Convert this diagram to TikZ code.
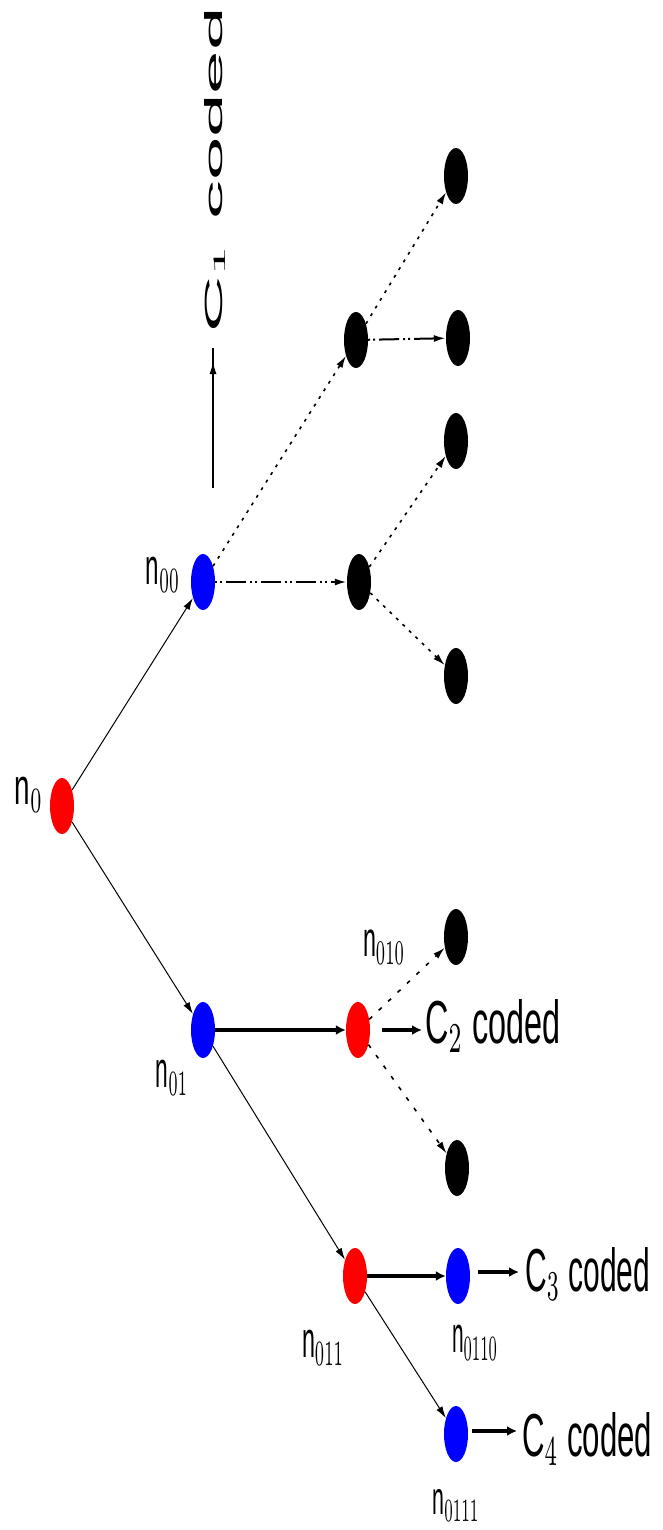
\documentclass[tikz,border=0pt]{standalone}
\usepackage{fontspec}
\setmainfont{Liberation Sans}
\usetikzlibrary{shapes.geometric,arrows.meta}
\begin{document}
\begin{tikzpicture}[x=1pt,y=-1pt,
  vtx/.style={ellipse,inner sep=0pt,minimum width=24pt,minimum height=56pt,draw=none},
  rednode/.style={vtx,fill=red},
  bluenode/.style={vtx,fill=blue},
  blacknode/.style={vtx,fill=black},
  tip/.style={-{Latex[length=12pt,width=7pt]}},
  thinedge/.style={tip,line width=1pt},
  thickedge/.style={-{Latex[length=10pt,width=10pt]},line width=4pt},
  dotedge/.style={tip,line width=1.6pt,dash pattern=on 3pt off 6pt},
  ddotedge/.style={tip,line width=2pt,dash pattern=on 2pt off 3pt on 2pt off 4pt on 20pt off 4pt},
  sparseedge/.style={tip,line width=1.6pt,dash pattern=on 4pt off 9pt},
  lbl/.style={inner sep=0pt}
]
\useasboundingbox (0,0) rectangle (662,1530);

% vertices
\node[rednode]  (n0)    at (62,806)   {};
\node[bluenode] (n00)   at (203,582)  {};
\node[bluenode] (n01)   at (203,1030) {};
\node[blacknode] (a)    at (356,340)  {};
\node[blacknode] (b)    at (359,582)  {};
\node[blacknode] (l1)   at (456,176)  {};
\node[blacknode] (l2)   at (458,338)  {};
\node[blacknode] (l3)   at (456,441)  {};
\node[blacknode] (l4)   at (456,676)  {};
\node[rednode]  (n010)  at (358,1030) {};
\node[blacknode] (l5)   at (456,937)  {};
\node[blacknode] (l6)   at (457,1168) {};
\node[rednode]  (n011)  at (355,1276) {};
\node[bluenode] (n0110) at (458,1276) {};
\node[bluenode] (n0111) at (456,1434) {};

% labels
\node[lbl] (t0)    at (29,795)   {\resizebox*{28pt}{35pt}{n$_0$}};
\node[lbl] (t00)   at (163,575)  {\resizebox*{34pt}{35pt}{n$_{00}$}};
\node[lbl] (t01)   at (172,1078) {\resizebox*{32pt}{35pt}{n$_{01}$}};
\node[lbl] (t010)  at (384,947)  {\resizebox*{42pt}{34pt}{n$_{010}$}};
\node[lbl] (t011)  at (323,1348) {\resizebox*{42pt}{35pt}{n$_{011}$}};
\node[lbl] (t0110) at (475,1343) {\resizebox*{46pt}{35pt}{n$_{0110}$}};
\node[lbl] (t0111) at (456,1505) {\resizebox*{47pt}{32pt}{n$_{0111}$}};

% coded texts
\node[lbl,anchor=base west] (c2) at (425,1043) {\resizebox{135pt}{44pt}{C$_2$ coded}};
\node[lbl,anchor=base west] (c3) at (525,1291) {\resizebox{125pt}{44pt}{C$_3$ coded}};
\node[lbl,anchor=base west] (c4) at (522,1456) {\resizebox{130pt}{44pt}{C$_4$ coded}};
\node[lbl,rotate=90] (c1) at (215,170) {\resizebox{325pt}{18pt}{C$_1$ coded}};

% edges
\draw[thinedge] (n0) -- (n00);
\draw[thinedge] (n0) -- (n01);
\draw[dotedge] (n00) -- (a);
\draw[ddotedge] (n00) -- (b);
\draw[dotedge] (a) -- (l1);
\draw[ddotedge] (a) -- (l2);
\draw[dotedge] (b) -- (l3);
\draw[dotedge] (b) -- (l4);
\draw[thickedge,line width=3.5pt] (n01) -- (n010);
\draw[sparseedge] (n010) -- (l5);
\draw[sparseedge] (n010) -- (l6);
\draw[thinedge] (n01) -- (n011);
\draw[thickedge,line width=3.5pt] (n011) -- (n0110);
\draw[thinedge] (n011) -- (n0111);

% short arrows to texts
\draw[thickedge] ([xshift=12pt]n010.east) -- ([xshift=-3pt]n010.east -| c2.west);
\draw[thickedge] ([xshift=8pt,yshift=4pt]n0110.east) -- ([xshift=-6pt,yshift=4pt]n0110.east -| c3.west);
\draw[thickedge] ([xshift=4pt,yshift=3pt]n0111.east) -- ([xshift=-5pt,yshift=3pt]n0111.east -| c4.west);

% vertical arrow towards C1 coded
\coordinate (u0) at (213,488);
\coordinate (u1) at (213,348);
\coordinate (u2) at (213,362);
\draw[line width=1.2pt] (u0) -- (u1);
\draw[thinedge] (u0) -- (u2);
\end{tikzpicture}
\end{document}
